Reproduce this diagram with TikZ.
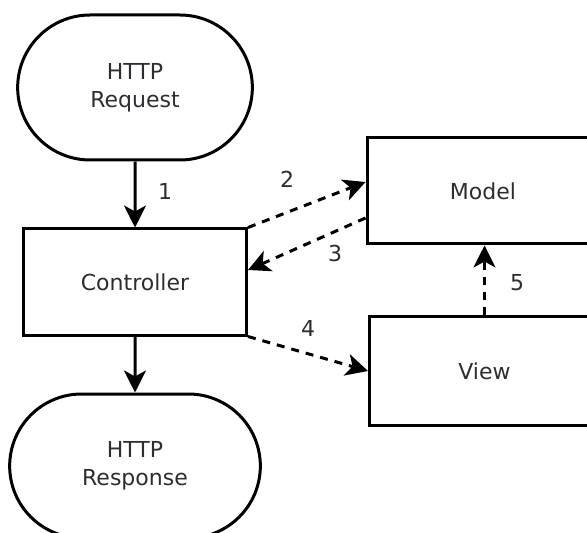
\documentclass[tikz,border=0pt]{standalone}
\usepackage{fontspec}
\setmainfont{DejaVu Sans}
\usetikzlibrary{shapes.misc,arrows.meta,positioning}
\definecolor{inkgray}{RGB}{45,45,50}

\begin{document}
\begin{tikzpicture}[x=0.5pt, y=-0.5pt, font=\fontsize{11}{14}\selectfont, text=inkgray,
  terminal/.style={rounded rectangle, draw, line width=1.5pt, minimum width=124pt, minimum height=72.5pt, align=center},
  block/.style={rectangle, draw, line width=1.5pt, minimum width=111.5pt, minimum height=53pt, align=center},
  flow/.style={line width=1.5pt, -{Stealth[length=11pt, width=11pt, inset=3pt]}},
  call/.style={flow, dash pattern=on 4pt off 3.5pt},
  num/.style={inner sep=0pt}]

\clip (0,0) rectangle (587,533);

\node[terminal] (req) at (135,87.5) {HTTP\\Request};

\node[block, below=33pt of req] (ctrl) {Controller};

\node[terminal, minimum width=132pt, minimum height=72pt, below=28pt of ctrl] (resp) {HTTP\\Response};

\node[block, minimum width=116pt] (model) at (483,191) {Model};

\node[block, minimum width=115pt, minimum height=54pt] (view) at (484.5,371) {View};

% request / response flow
\draw[flow] (req) -- (ctrl);
\draw[flow] (ctrl) -- (resp);

% calls between controller, model and view
\draw[call] (ctrl.north east) -- ([yshift=4.5pt]model.west);
\draw[call] ([yshift=-13.5pt]model.west) -- ([yshift=6pt]ctrl.east);
\draw[call] (ctrl.south east) -- (view.west);
\draw[call] (view.north) -- (view.north |- model.south);

\node[num] (n1) at (165,191) {1};
\node[num] (n2) at (287,179) {2};
\node[num] (n3) at (335,253) {3};
\node[num] (n4) at (308,328) {4};
\node[num] (n5) at (517,283) {5};

\end{tikzpicture}
\end{document}
